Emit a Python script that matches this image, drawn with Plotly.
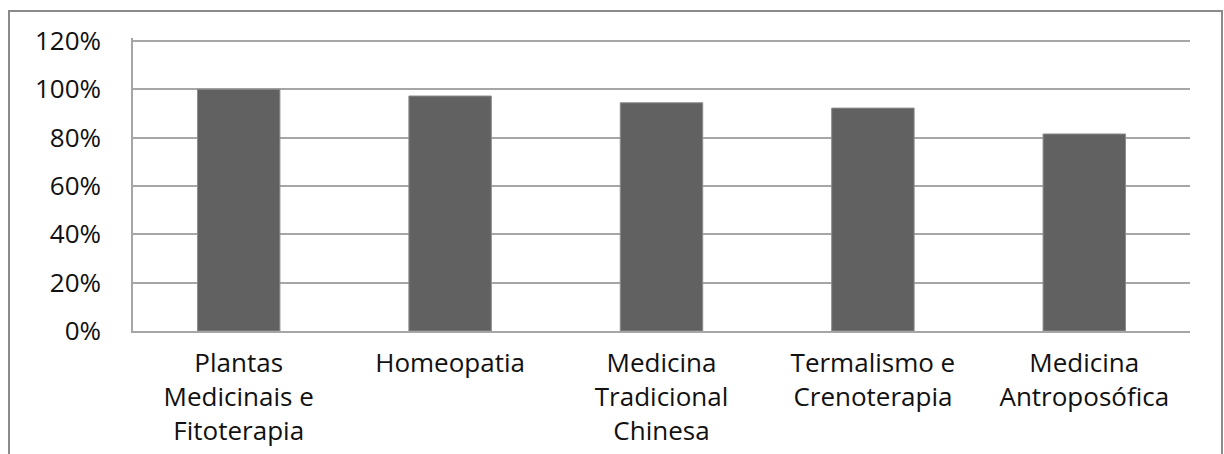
import plotly.graph_objects as go

# Therapy categories (line breaks as shown under each bar)
categories = [
    "Plantas<br>Medicinais e<br>Fitoterapia",
    "Homeopatia",
    "Medicina<br>Tradicional<br>Chinesa",
    "Termalismo e<br>Crenoterapia",
    "Medicina<br>Antroposófica",
]
# Share of respondents for each category
shares = [1.00, 0.972, 0.944, 0.922, 0.815]
# Y axis ticks
tick_vals = [0, 0.2, 0.4, 0.6, 0.8, 1.0, 1.2]
tick_text = ["0%", "20%", "40%", "60%", "80%", "100%", "120%"]

FONT = "Open Sans"
GRID = "#a6a6a6"
TEXT = "#111111"
FS = 26

fig = go.Figure(
    go.Bar(
        x=categories,
        y=shares,
        width=0.39,
        marker=dict(color="#616161", line=dict(color="#8c8c8c", width=1)),
        hoverinfo="skip",
    )
)

W, H = 1224, 454
L, R, T, B = 133, 34, 38, 123
pw, ph = W - L - R, H - T - B

def px_x(p):
    return (p - L) / pw

def px_y(p):
    return (H - B - p) / ph

fig.update_layout(
    width=W,
    height=H,
    margin=dict(l=L, r=R, t=T, b=B, pad=0, autoexpand=False),
    paper_bgcolor="white",
    plot_bgcolor="white",
    showlegend=False,
    font=dict(family=FONT, size=FS, color=TEXT),
    xaxis=dict(
        automargin=False,
        showgrid=False,
        showline=True,
        linecolor=GRID,
        linewidth=1.5,
        ticks="",
        tickfont=dict(family=FONT, size=FS, color=TEXT),
        ticklabelstandoff=8,
    ),
    yaxis=dict(
        automargin=False,
        range=[0, 1.212],
        tickvals=tick_vals,
        ticktext=tick_text,
        showgrid=True,
        gridcolor=GRID,
        gridwidth=1.5,
        showline=True,
        linecolor=GRID,
        linewidth=1.5,
        zeroline=False,
        ticks="",
        ticklabelstandoff=25,
        tickfont=dict(family=FONT, size=FS, color=TEXT),
    ),
    shapes=[
        dict(
            type="rect",
            xref="paper",
            yref="paper",
            x0=px_x(9),
            x1=px_x(1222),
            y0=px_y(470),
            y1=px_y(11),
            line=dict(color="#8a8a8a", width=2),
            fillcolor="rgba(0,0,0,0)",
            layer="below",
        )
    ],
)

fig.write_html("out.html")
